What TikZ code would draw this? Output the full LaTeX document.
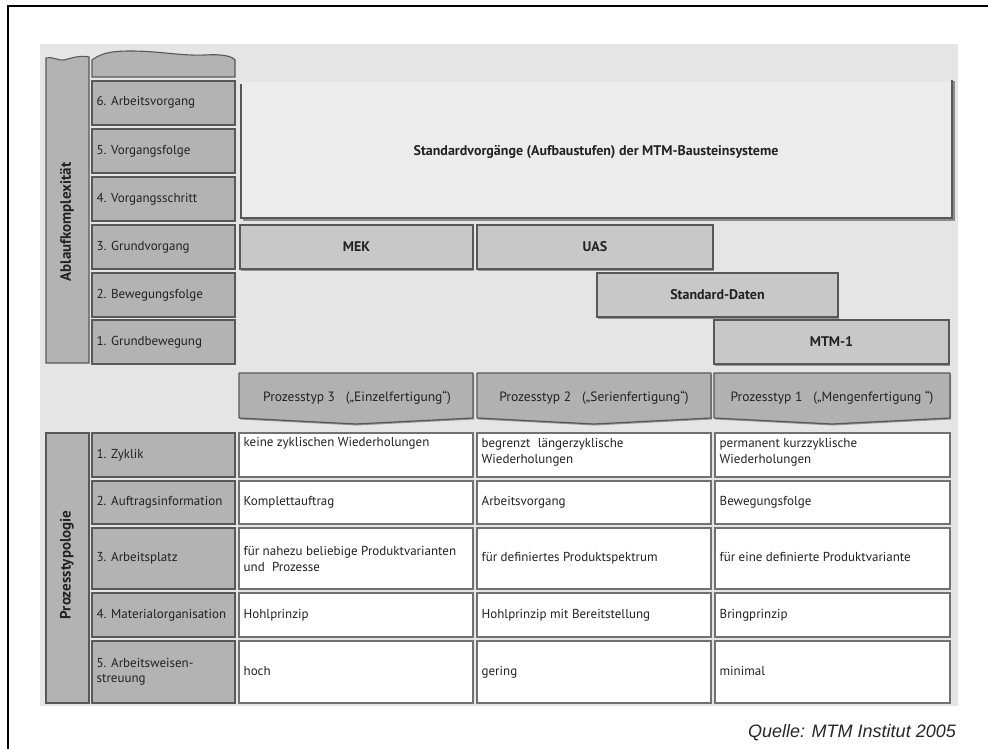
\documentclass[tikz,border=0pt]{standalone}
\usepackage{fontspec}
\setmainfont{PT Sans}
\newfontfamily\arialfont{Liberation Sans}
\usetikzlibrary{fit,shadows}
\definecolor{bgc}{HTML}{E5E5E5}
\definecolor{bigc}{HTML}{ECECEC}
\definecolor{lblc}{HTML}{B3B3B3}
\definecolor{barc}{HTML}{C8C8C8}
\definecolor{hdrc}{HTML}{B1B1B1}
\definecolor{brd}{HTML}{585858}
\definecolor{txtc}{HTML}{222222}
\tikzset{
  shd/.style={drop shadow={shadow xshift=1pt, shadow yshift=-1.5pt, fill=black, opacity=0.35}},
  lblbox/.style={draw=brd, fill=lblc, line width=1.1pt, inner sep=0pt},
  barbox/.style={draw=brd, fill=barc, line width=1.2pt, inner sep=0pt, shd},
  cellbox/.style={draw=brd!85, fill=white, line width=1.1pt, inner sep=0pt},
  lbltxt/.style={anchor=west, inner sep=0pt, text=txtc, font=\fontsize{13}{15}\selectfont, text height=9pt, text depth=3pt},
  mlbltxt/.style={anchor=west, inner sep=0pt, text=txtc, font=\fontsize{13}{15.5}\selectfont, align=left},
  celltxt/.style={anchor=west, inner sep=0pt, text=txtc, font=\fontsize{13}{15}\selectfont, text height=9pt, text depth=3pt},
  mcelltxt/.style={anchor=west, inner sep=0pt, text=txtc, font=\fontsize{13}{16}\selectfont, align=left},
  bartxt/.style={inner sep=0pt, text=txtc, font=\bfseries\fontsize{14}{16}\selectfont},
  hdrtxt/.style={inner sep=0pt, text=txtc, font=\fontsize{13.5}{16}\selectfont},
  vtxt/.style={inner sep=0pt, text=txtc, rotate=90, font=\bfseries\fontsize{15}{17}\selectfont},
  hdrshape/.style={draw=brd, fill=hdrc, line width=1.2pt, line join=round, shd}
}
\begin{document}
\begin{tikzpicture}[x=1pt,y=-1pt]
\useasboundingbox (0,0) rectangle (988,749);
% outer frame
\draw[line width=1.6pt] (8,749.5) -- (8,6) -- (989,6);
% background panel
\fill[bgc] (40,44) rectangle (958,706);
% left vertical bars
\path[lblbox] (46,363) -- (46,58) .. controls (52,56) and (58,61) .. (64,60) .. controls (72,58) and (80,55) .. (89,57) -- (89,363) -- cycle;
\node[vtxt] (ablauf) at (67,222) {Ablaufkomplexität};
\path[lblbox] (46,433) rectangle (89,703);
\node[vtxt] (ptyp) at (67,565) {Prozesstypologie};
% top wavy label box
\path[lblbox] (92,77) -- (92,60) .. controls (98,56) and (104,51) .. (130,51) .. controls (160,51) and (180,56) .. (205,55) .. controls (222,54) and (232,56) .. (235,60) -- (235,77) -- cycle;
% row labels (upper)
\node[lblbox, fit={(92,81) (235,125)}] (r6) {};
\node[lbltxt] (r6t) at ([xshift=5pt]r6.west) {6. Arbeitsvorgang};
\node[lblbox, fit={(92,129) (235,173)}] (r5) {};
\node[lbltxt] (r5t) at ([xshift=5pt]r5.west) {5. Vorgangsfolge};
\node[lblbox, fit={(92,177) (235,221)}] (r4) {};
\node[lbltxt] (r4t) at ([xshift=5pt]r4.west) {4. Vorgangsschritt};
\node[lblbox, fit={(92,225) (235,269)}] (r3) {};
\node[lbltxt] (r3t) at ([xshift=5pt]r3.west) {3. Grundvorgang};
\node[lblbox, fit={(92,273) (235,317)}] (r2) {};
\node[lbltxt] (r2t) at ([xshift=5pt]r2.west) {2. Bewegungsfolge};
\node[lblbox, fit={(92,320) (235,364)}] (r1) {};
\node[lbltxt] (r1t) at ([xshift=5pt]r1.west) {1. Grundbewegung};
% big box
\fill[bigc] (241,82) rectangle (952,218);
\draw[black!45, line width=2.4pt] (242.5,219.5) -- (953.5,219.5) -- (953.5,81);
\draw[brd, line width=1.5pt] (241,84) -- (241,218) -- (952,218) -- (952,80);
\node[bartxt] (std) at (596,152) {Standardvorgänge (Aufbaustufen) der MTM-Bausteinsysteme};
% bars
\node[barbox, fit={(240,225) (473,269)}] (mek) {};
\node[bartxt] (mekt) at (mek.center) {MEK};
\node[barbox, fit={(477,225) (713,269)}] (uas) {};
\node[bartxt] (uast) at (uas.center) {UAS};
\node[barbox, fit={(597,273) (838,317)}] (sd) {};
\node[bartxt] (sdt) at (sd.center) {Standard-Daten};
\node[barbox, fit={(714,320) (949,364)}] (mtm) {};
\node[bartxt] (mtmt) at (mtm.center) {MTM-1};
% process type headers
\path[hdrshape] (239,373) -- (473,373) -- (473,418) -- (356,424) -- (239,418) -- cycle;
\node[hdrtxt] (pt3) at (357,398) {Prozesstyp 3\hspace{0.8em}(„Einzelfertigung“)};
\path[hdrshape] (477,373) -- (711,373) -- (711,418) -- (594,424) -- (477,418) -- cycle;
\node[hdrtxt] (pt2) at (594,398) {Prozesstyp 2\hspace{0.8em}(„Serienfertigung“)};
\path[hdrshape] (714,373) -- (950,373) -- (950,418) -- (832,424) -- (714,418) -- cycle;
\node[hdrtxt] (pt1) at (832,398) {Prozesstyp 1\hspace{0.8em}(„Mengenfertigung “)};
% table labels
\node[lblbox, fit={(92,433) (235,477)}] (t1) {};
\node[lbltxt] (t1t) at ([xshift=5pt]t1.west) {1. Zyklik};
\node[lblbox, fit={(92,481) (235,524)}] (t2) {};
\node[lbltxt] (t2t) at ([xshift=5pt]t2.west) {2. Auftragsinformation};
\node[lblbox, fit={(92,528) (235,589)}] (t3) {};
\node[lbltxt] (t3t) at ([xshift=5pt]t3.west) {3. Arbeitsplatz};
\node[lblbox, fit={(92,593) (235,637)}] (t4) {};
\node[lbltxt] (t4t) at ([xshift=5pt]t4.west) {4. Materialorganisation};
\node[lblbox, fit={(92,641) (235,703)}] (t5) {};
\node[mlbltxt] (t5t) at ([xshift=5pt]t5.west) {5. Arbeitsweisen-\\streuung};
% row 1
\node[cellbox, fit={(239,433) (473,477)}] (c11) {};
\node[mcelltxt, anchor=north west] (c11t) at ([xshift=5pt,yshift=-5pt]c11.north west) {keine zyklischen Wiederholungen};
\node[cellbox, fit={(477,433) (711,477)}] (c12) {};
\node[mcelltxt, anchor=north west] (c12t) at ([xshift=5pt,yshift=-6pt]c12.north west) {begrenzt\hspace{0.3em} längerzyklische\\Wiederholungen};
\node[cellbox, fit={(715,433) (950,477)}] (c13) {};
\node[mcelltxt, anchor=north west] (c13t) at ([xshift=5pt,yshift=-6pt]c13.north west) {permanent kurzzyklische\\Wiederholungen};
% row 2
\node[cellbox, fit={(239,481) (473,524)}] (c21) {};
\node[celltxt] (c21t) at ([xshift=5pt]c21.west) {Komplettauftrag};
\node[cellbox, fit={(477,481) (711,524)}] (c22) {};
\node[celltxt] (c22t) at ([xshift=5pt]c22.west) {Arbeitsvorgang};
\node[cellbox, fit={(715,481) (950,524)}] (c23) {};
\node[celltxt] (c23t) at ([xshift=5pt]c23.west) {Bewegungsfolge};
% row 3
\node[cellbox, fit={(239,528) (473,589)}] (c31) {};
\node[mcelltxt] (c31t) at ([xshift=5pt]c31.west) {für nahezu beliebige Produktvarianten\\und\hspace{0.3em} Prozesse};
\node[cellbox, fit={(477,528) (711,589)}] (c32) {};
\node[celltxt] (c32t) at ([xshift=5pt]c32.west) {für definiertes Produktspektrum};
\node[cellbox, fit={(715,528) (950,589)}] (c33) {};
\node[celltxt] (c33t) at ([xshift=5pt]c33.west) {für eine definierte Produktvariante};
% row 4
\node[cellbox, fit={(239,593) (473,637)}] (c41) {};
\node[celltxt] (c41t) at ([xshift=5pt]c41.west) {Hohlprinzip};
\node[cellbox, fit={(477,593) (711,637)}] (c42) {};
\node[celltxt] (c42t) at ([xshift=5pt]c42.west) {Hohlprinzip mit Bereitstellung};
\node[cellbox, fit={(715,593) (950,637)}] (c43) {};
\node[celltxt] (c43t) at ([xshift=5pt]c43.west) {Bringprinzip};
% row 5
\node[cellbox, fit={(239,641) (473,703)}] (c51) {};
\node[celltxt] (c51t) at ([xshift=5pt]c51.west) {hoch};
\node[cellbox, fit={(477,641) (711,703)}] (c52) {};
\node[celltxt] (c52t) at ([xshift=5pt]c52.west) {gering};
\node[cellbox, fit={(715,641) (950,703)}] (c53) {};
\node[celltxt] (c53t) at ([xshift=5pt]c53.west) {minimal};
% source
\node[anchor=east, inner sep=0pt, font=\arialfont\itshape\fontsize{18}{21}\selectfont, text=black!85] (src) at (956,733) {Quelle: MTM Institut 2005};
\end{tikzpicture}
\end{document}
